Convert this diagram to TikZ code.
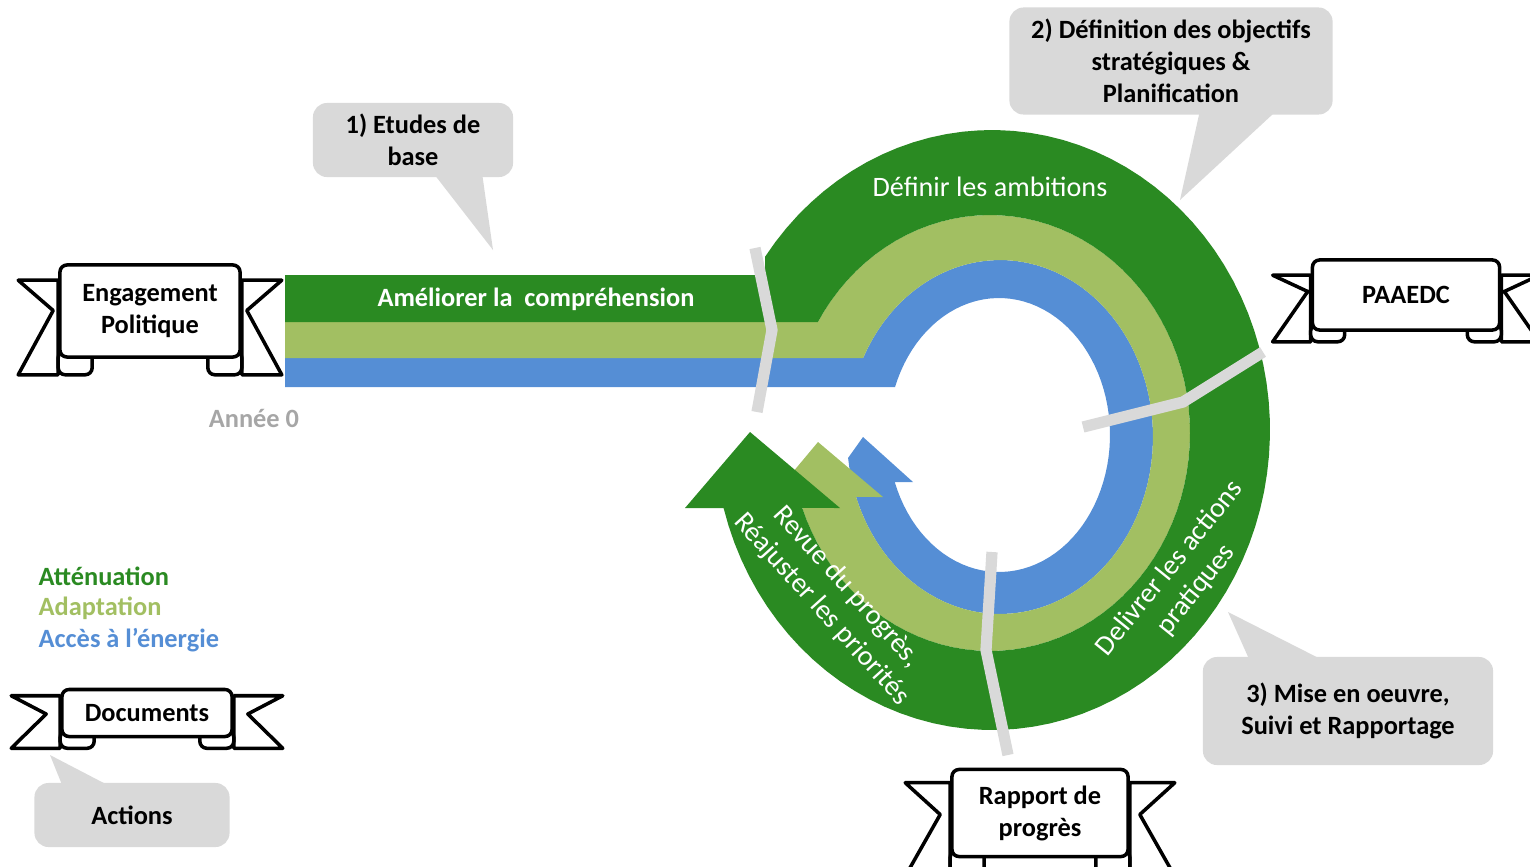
\documentclass[tikz,border=0pt]{standalone}
\usepackage{fontspec}
\setmainfont{Carlito}
\usepackage{tikz}
\usetikzlibrary{positioning}
\usetikzlibrary{calc}
\usetikzlibrary{backgrounds}

\definecolor{atten}{HTML}{2A8A22}
\definecolor{adapt}{HTML}{A2BF62}
\definecolor{energy}{HTML}{558ED5}
\definecolor{callgray}{HTML}{D9D9D9}
\definecolor{yeargray}{HTML}{A6A6A6}

\newcommand{\diagfont}{\fontsize{7.5}{9.1}\selectfont\bfseries}
\newcommand{\ringfont}{\fontsize{8}{9.6}\selectfont}

% tails and folds behind a banner node: node, top offset, bottom offset, tail length
\newcommand{\ribbon}[4]{%
  \begin{pgfonlayer}{background}
    \draw[tail] ($(#1.north west)+(0,#2)$) -- ++(-#4,0)
      -- ($(#1.west)+({35-#4},{(#3-#2)/2})$)
      -- ($(#1.south west)+(-#4,#3)$) -- ($(#1.south west)+(0,#3)$) -- cycle;
    \draw[tail] ($(#1.north east)+(0,#2)$) -- ++(#4,0)
      -- ($(#1.east)+({#4-35},{(#3-#2)/2})$)
      -- ($(#1.south east)+(#4,#3)$) -- ($(#1.south east)+(0,#3)$) -- cycle;
    \draw[tail, rounded corners=2pt] ($(#1.south west)+(0,-8)$) rectangle ($(#1.south west)+(34,#3)$);
    \draw[tail, rounded corners=2pt] ($(#1.south east)+(-34,-8)$) rectangle ($(#1.south east)+(0,#3)$);
  \end{pgfonlayer}}

\begin{document}
\begin{tikzpicture}[x=0.01cm, y=-0.01cm,
    banner/.style={draw, fill=white, line width=1pt, rounded corners=2pt, align=center, font=\diagfont, inner sep=0pt},
    tail/.style={draw, fill=white, line width=1pt, line join=round},
    callout/.style={fill=callgray, rounded corners=4pt, align=center, font=\diagfont, inner sep=0pt},
    ringtext/.style={text=white, font=\ringfont, align=center},
    legend/.style={anchor=west, inner sep=0pt, font=\diagfont},
    sep/.style={draw=callgray, line width=3.2pt}]
  \useasboundingbox (0,0) rectangle (1530,866);

  % the three bands
  \fill[energy] (285,358) -- (863,358)
    -- plot[domain=206.5:533.2, samples=90] ({1000+153*cos(\x)}, {437+177*sin(\x)})
    -- (863,437) -- (913,482)
    -- plot[domain=519.9:200.5, samples=90] ({999+111*cos(\x)}, {435+137*sin(\x)})
    -- (285,387) -- cycle;
  \fill[adapt] (285,322) -- (818,322)
    -- plot[domain=210.6:522.9, samples=90] ({990+200*cos(\x)}, {433+218*sin(\x)})
    -- (772,497) -- (818,442) -- (883,497)
    -- plot[domain=520.2:206.5, samples=90] ({1000+153*cos(\x)}, {437+177*sin(\x)})
    -- (285,358) -- cycle;
  \fill[atten] (285,275) -- (765,275)
    -- plot[domain=215.3:524.9, samples=90] ({992+278*cos(\x)}, {430+300*sin(\x)})
    -- (685,508) -- (750,432) -- (840,508)
    -- plot[domain=519.9:210.6, samples=90] ({990+200*cos(\x)}, {433+218*sin(\x)})
    -- (285,322) -- cycle;

  % cuts between the phases
  \draw[sep] (755,248) -- (772,330) -- (757,412);
  \draw[sep] (1263,352) -- (1183,402) -- (1083,427);
  \draw[sep] (992,552) -- (986,650) -- (1008,755);

  \node[ringtext, font=\diagfont] (improve) at (536,299) {Améliorer la~ compréhension};
  \node[ringtext] (ambitions) at (990,187) {Définir les ambitions};
  \node[ringtext, rotate=51] (deliver) at (1183,579) {Delivrer les actions\\pratiques};
  \node[ringtext, rotate=-48] (revue) at (834,598) {Revue du progrès,\\Réajuster les priorités};

  % banners
  \node[banner, minimum width=1.8cm, minimum height=0.92cm] (engage) at (150,311) {Engagement\\Politique};
  \node[banner, minimum width=1.87cm, minimum height=0.7cm] (paaedc) at (1406,295) {PAAEDC};
  \node[banner, minimum width=1.7cm, minimum height=0.47cm] (docs) at (147,713) {Documents};
  \node[banner, minimum width=1.76cm, minimum height=0.87cm] (rapport) at (1040,813) {Rapport de\\progrès};
  \ribbon{engage}{17}{16}{40}
  \ribbon{paaedc}{17}{10}{38}
  \ribbon{docs}{8}{10}{49}
  \ribbon{rapport}{15}{18}{45}

  \node[font=\diagfont, text=yeargray] (year) at (254,418) {Année 0};

  % callouts
  \node[callout, minimum width=2cm, minimum height=0.74cm] (etudes) at (413,140) {1) Etudes de\\base};
  \coordinate (etudestip) at (493,250);
  \fill[callgray] ($(etudes.south)+(20,-5)$) -- (etudestip) -- ($(etudes.south)+(69,-5)$) -- cycle;

  \node[callout, minimum width=3.23cm, minimum height=1.07cm] (objectifs) at (1171,61) {2) Définition des objectifs\\stratégiques \&\\Planification};
  \coordinate (objectifstip) at (1180,200);
  \fill[callgray] ($(objectifs.south)+(29,-5)$) -- (objectifstip) -- ($(objectifs.south)+(106,-5)$) -- cycle;

  \node[callout, minimum width=2.9cm, minimum height=1.08cm] (miseoeuvre) at (1348,711) {3) Mise en oeuvre,\\Suivi et Rapportage};
  \coordinate (miseoeuvretip) at (1228,612);
  \fill[callgray] ($(miseoeuvre.north)+(-98,5)$) -- (miseoeuvretip) -- ($(miseoeuvre.north)+(-23,5)$) -- cycle;

  \node[callout, minimum width=1.95cm, minimum height=0.64cm] (actions) at (132,815) {Actions};
  \coordinate (actionstip) at (50,755);
  \fill[callgray] ($(actions.north)+(-69,5)$) -- (actionstip) -- ($(actions.north)+(-20,5)$) -- cycle;

  % legend
  \node[legend, text=atten] (legatten) at (38,576) {Atténuation};
  \node[legend, text=adapt] (legadapt) at (38,608) {Adaptation};
  \node[legend, text=energy] (legenergy) at (38,640) {Accès à l’énergie};
\end{tikzpicture}
\end{document}
